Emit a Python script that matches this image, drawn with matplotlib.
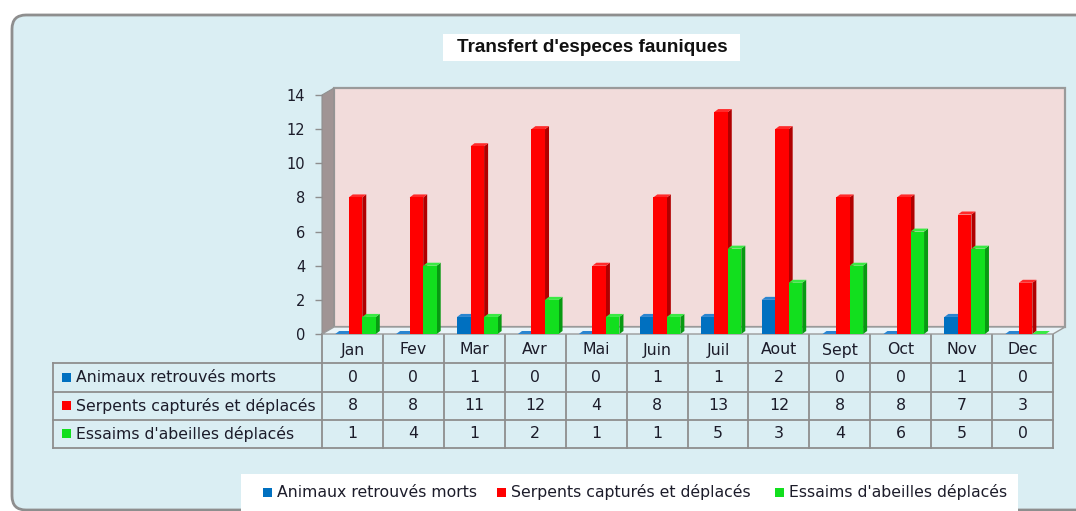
import matplotlib
matplotlib.use('Agg')
import matplotlib.pyplot as plt
from matplotlib.patches import Polygon, Rectangle, FancyBboxPatch
from matplotlib.transforms import blended_transform_factory

# ---------------- data ----------------
months = ['Jan', 'Fev', 'Mar', 'Avr', 'Mai', 'Juin', 'Juil', 'Aout', 'Sept', 'Oct', 'Nov', 'Dec']
series_names = ['Animaux retrouvés morts', 'Serpents capturés et déplacés', "Essaims d'abeilles déplacés"]
animaux = [0, 0, 1, 0, 0, 1, 1, 2, 0, 0, 1, 0]
serpents = [8, 8, 11, 12, 4, 8, 13, 12, 8, 8, 7, 3]
essaims = [1, 4, 1, 2, 1, 1, 5, 3, 4, 6, 5, 0]
title = "Transfert d'especes fauniques"
yticks = [0, 2, 4, 6, 8, 10, 12, 14]

# ---------------- styles ----------------
colors = ['#0070C0', '#FF0000', '#12DF1E']
side_colors = ['#004A85', '#B00000', '#089A12']
top_colors = ['#2A85D0', '#FF2A2A', '#3AEA44']
txt_color = '#1C1C2A'
grid_col = '#8E8E8E'
FONT = 'DejaVu Sans'

W, H = 1076, 511
fig = plt.figure(figsize=(W / 100, H / 100), dpi=100)
fig.patch.set_facecolor('white')

bg = fig.add_axes([0, 0, 1, 1], zorder=0)
bg.set_xlim(0, W)
bg.set_ylim(H, 0)
bg.axis('off')

panel = FancyBboxPatch((12, 15), 1085, 495, boxstyle='round,pad=0,rounding_size=14',
                       fc='#DAEEF3', ec='#8E8E8E', lw=2)
bg.add_patch(panel)

# title
bg.add_patch(Rectangle((443, 34), 297, 27, fc='white', ec='none'))
bg.text(592, 48, title, ha='center', va='center', fontsize=13.6, fontweight='bold',
        family='Liberation Sans', color='#111111')

# ---------------- main axes ----------------
x0, x1 = 322, 1053
y0, y1 = 334, 95
ax = fig.add_axes([x0 / W, (H - y0) / H, (x1 - x0) / W, (y0 - y1) / H], zorder=1)
ax.set_xlim(-0.5, len(months) - 0.5)
ax.set_ylim(0, 14)
ax.patch.set_alpha(0)
for s in ax.spines.values():
    s.set_visible(False)
ax.set_xticks([])
ax.set_yticks(yticks)
ax.tick_params(axis='y', length=5, width=1, color=grid_col, pad=7, labelsize=10.5,
               labelcolor=txt_color)
for lab in ax.get_yticklabels():
    lab.set_family(FONT)

px_x = (x1 - x0) / len(months)
px_y = (y0 - y1) / 14.0
def ddx(p):
    return p / px_x
def ddy(p):
    return p / px_y

n = len(months)
BX, BY = ddx(12), ddy(7)
L, R = -0.5, n - 0.5
back = Polygon([(L + BX, BY), (R + BX, BY), (R + BX, 14 + BY), (L + BX, 14 + BY)], closed=True,
               fc='#F2DCDB', ec='#9A9A9A', lw=1.6, clip_on=False, zorder=0.5)
ax.add_patch(back)
left_wall = Polygon([(L, 0), (L, 14), (L + BX, 14 + BY), (L + BX, BY)], closed=True,
                    fc='#A09494', ec='#909090', lw=0.8, clip_on=False, zorder=0.6)
ax.add_patch(left_wall)
floor = Polygon([(L, 0), (R, 0), (R + BX, BY), (L + BX, BY)], closed=True,
                fc='#EAF4F8', ec='#9A9A9A', lw=1.0, clip_on=False, zorder=0.7)
ax.add_patch(floor)

# 3D bars
w = 0.222
shift = 0.05
DX, DY = ddx(4), ddy(3)
for k, vals in enumerate([animaux, serpents, essaims]):
    xs = [i + (k - 1) * w + shift for i in range(n)]
    z = 2 + k
    for xc, v in zip(xs, vals):
        xl, xr = xc - w / 2, xc + w / 2
        ax.add_patch(Polygon([(xr, 0), (xr, v), (xr + DX, v + DY), (xr + DX, DY)], closed=True,
                             fc=side_colors[k], ec='none', zorder=z, clip_on=False))
        ax.add_patch(Polygon([(xl, v), (xr, v), (xr + DX, v + DY), (xl + DX, v + DY)], closed=True,
                             fc=top_colors[k], ec='none', zorder=z, clip_on=False))
    ax.bar(xs, vals, width=w, color=colors[k], zorder=z, clip_on=False, linewidth=0)

# ---------------- data table ----------------
tr = blended_transform_factory(ax.transData, bg.transData)
def to_px(xd):
    return ax.transData.transform((xd, 0))[0]

row_lines = [363, 392, 420, 448]
tab_left = 53
right_px = to_px(R)
for yl in row_lines:
    bg.plot([tab_left, right_px], [yl, yl], color=grid_col, lw=1.3)
for i in range(n + 1):
    bg.plot([i - 0.5, i - 0.5], [y0, 448], color=grid_col, lw=1.3, transform=tr)
bg.plot([tab_left, tab_left], [363, 448], color=grid_col, lw=1.3)

fs = 11.3
for i, m in enumerate(months):
    bg.text(i, 350, m, transform=tr, ha='center', va='center', fontsize=fs, family=FONT, color=txt_color)
row_centers = [377.5, 406, 434]
for k, vals in enumerate([animaux, serpents, essaims]):
    yc = row_centers[k]
    bg.add_patch(Rectangle((62, yc - 4.5), 9, 9, fc=colors[k], ec='none'))
    bg.text(76, yc, series_names[k], ha='left', va='center', fontsize=fs, family=FONT, color=txt_color)
    for i, v in enumerate(vals):
        bg.text(i, yc, str(v), transform=tr, ha='center', va='center', fontsize=fs, family=FONT,
                color=txt_color)

# ---------------- legend ----------------
bg.add_patch(Rectangle((241, 474), 777, 45, fc='white', ec='none'))
leg_sq = [263, 497, 775]
for k in range(3):
    bg.add_patch(Rectangle((leg_sq[k], 488), 9, 9, fc=colors[k], ec='none'))
    bg.text(leg_sq[k] + 14, 492.5, series_names[k], ha='left', va='center', fontsize=fs,
            family=FONT, color=txt_color)

fig.savefig('out.png', dpi=100, facecolor='white')
